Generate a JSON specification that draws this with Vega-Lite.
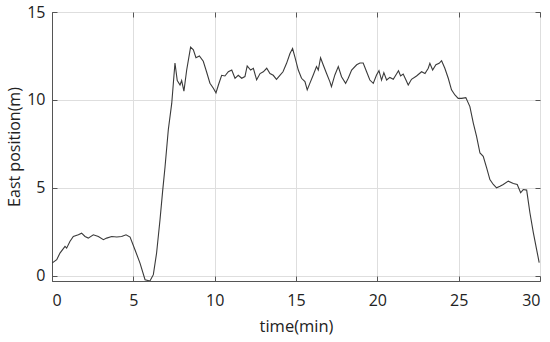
{
  "$schema": "https://vega.github.io/schema/vega-lite/v6.json",
  "width": 488,
  "height": 269,
  "autosize": "none",
  "padding": {"left": 52, "top": 12, "right": 10, "bottom": 61},
  "background": "white",
  "config": {
    "view": {"stroke": "#555", "strokeWidth": 1},
    "font": "Open Sans",
    "axis": {
      "labelFont": "Open Sans",
      "titleFont": "Open Sans",
      "labelFontSize": 16,
      "titleFontWeight": "normal",
      "labelColor": "#222",
      "titleColor": "#222",
      "domainColor": "#555",
      "tickColor": "#555",
      "gridColor": "#dedede",
      "tickSize": -5
    }
  },
  "data": {"values": [
    {"t": 0, "e": 0.72}, {"t": 0.29, "e": 0.91}, {"t": 0.49, "e": 1.29}, {"t": 0.8, "e": 1.67}, {"t": 0.9, "e": 1.57},
    {"t": 1.1, "e": 1.95}, {"t": 1.31, "e": 2.23}, {"t": 1.62, "e": 2.33}, {"t": 1.82, "e": 2.42}, {"t": 2.03, "e": 2.23},
    {"t": 2.23, "e": 2.14}, {"t": 2.54, "e": 2.33}, {"t": 2.85, "e": 2.23}, {"t": 3.16, "e": 2.05}, {"t": 3.36, "e": 2.14},
    {"t": 3.67, "e": 2.23}, {"t": 3.98, "e": 2.2}, {"t": 4.28, "e": 2.23}, {"t": 4.55, "e": 2.33}, {"t": 4.8, "e": 2.2},
    {"t": 5.1, "e": 1.48}, {"t": 5.41, "e": 0.72}, {"t": 5.72, "e": -0.23}, {"t": 6.02, "e": -0.3}, {"t": 6.23, "e": 0.06},
    {"t": 6.43, "e": 1.29}, {"t": 6.64, "e": 3.18}, {"t": 6.8, "e": 4.8}, {"t": 6.95, "e": 6.2}, {"t": 7.15, "e": 8.3},
    {"t": 7.36, "e": 9.8}, {"t": 7.46, "e": 10.95}, {"t": 7.56, "e": 12.1}, {"t": 7.7, "e": 11.1}, {"t": 7.87, "e": 10.85},
    {"t": 7.97, "e": 11.1}, {"t": 8.11, "e": 10.5}, {"t": 8.28, "e": 11.7}, {"t": 8.52, "e": 13.0}, {"t": 8.69, "e": 12.85},
    {"t": 8.85, "e": 12.4}, {"t": 9.06, "e": 12.5}, {"t": 9.3, "e": 12.2}, {"t": 9.5, "e": 11.6}, {"t": 9.71, "e": 10.95},
    {"t": 9.92, "e": 10.66}, {"t": 10.08, "e": 10.4}, {"t": 10.23, "e": 10.85}, {"t": 10.43, "e": 11.4}, {"t": 10.63, "e": 11.36},
    {"t": 10.84, "e": 11.6}, {"t": 11.05, "e": 11.7}, {"t": 11.25, "e": 11.23}, {"t": 11.45, "e": 11.4}, {"t": 11.66, "e": 11.23},
    {"t": 11.86, "e": 11.33}, {"t": 12.0, "e": 11.93}, {"t": 12.21, "e": 11.7}, {"t": 12.38, "e": 11.8}, {"t": 12.58, "e": 11.14},
    {"t": 12.79, "e": 11.5}, {"t": 12.99, "e": 11.6}, {"t": 13.2, "e": 11.8}, {"t": 13.4, "e": 11.5}, {"t": 13.6, "e": 11.4},
    {"t": 13.8, "e": 11.17}, {"t": 14.01, "e": 11.4}, {"t": 14.2, "e": 11.6}, {"t": 14.42, "e": 12.08}, {"t": 14.63, "e": 12.64},
    {"t": 14.79, "e": 12.92}, {"t": 14.93, "e": 12.45}, {"t": 15.14, "e": 11.7}, {"t": 15.34, "e": 11.23}, {"t": 15.55, "e": 11.04},
    {"t": 15.69, "e": 10.57}, {"t": 15.85, "e": 10.94}, {"t": 16.06, "e": 11.42}, {"t": 16.26, "e": 11.9}, {"t": 16.37, "e": 11.7},
    {"t": 16.51, "e": 12.4}, {"t": 16.67, "e": 12.0}, {"t": 16.88, "e": 11.5}, {"t": 17.08, "e": 11.04}, {"t": 17.18, "e": 10.75},
    {"t": 17.39, "e": 11.42}, {"t": 17.6, "e": 11.9}, {"t": 17.8, "e": 11.32}, {"t": 18.05, "e": 10.94}, {"t": 18.21, "e": 11.23},
    {"t": 18.42, "e": 11.7}, {"t": 18.73, "e": 12.0}, {"t": 18.93, "e": 12.1}, {"t": 19.13, "e": 12.1}, {"t": 19.34, "e": 11.6},
    {"t": 19.54, "e": 11.13}, {"t": 19.75, "e": 10.94}, {"t": 19.95, "e": 11.42}, {"t": 20.1, "e": 11.66}, {"t": 20.26, "e": 11.13},
    {"t": 20.4, "e": 11.55}, {"t": 20.57, "e": 11.13}, {"t": 20.77, "e": 11.28}, {"t": 20.98, "e": 11.17}, {"t": 21.14, "e": 11.42},
    {"t": 21.3, "e": 11.66}, {"t": 21.43, "e": 11.36}, {"t": 21.59, "e": 11.47}, {"t": 21.76, "e": 11.13}, {"t": 21.9, "e": 10.85},
    {"t": 22.1, "e": 11.17}, {"t": 22.41, "e": 11.36}, {"t": 22.72, "e": 11.6}, {"t": 22.93, "e": 11.5}, {"t": 23.13, "e": 11.8},
    {"t": 23.23, "e": 12.08}, {"t": 23.4, "e": 11.7}, {"t": 23.6, "e": 12.0}, {"t": 23.8, "e": 12.08}, {"t": 23.95, "e": 12.23},
    {"t": 24.15, "e": 11.8}, {"t": 24.36, "e": 11.23}, {"t": 24.56, "e": 10.57}, {"t": 24.77, "e": 10.28}, {"t": 24.97, "e": 10.09},
    {"t": 25.18, "e": 10.09}, {"t": 25.44, "e": 10.13}, {"t": 25.69, "e": 9.62}, {"t": 25.9, "e": 8.68}, {"t": 26.1, "e": 7.92},
    {"t": 26.31, "e": 6.98}, {"t": 26.51, "e": 6.79}, {"t": 26.72, "e": 6.13}, {"t": 26.92, "e": 5.47}, {"t": 27.13, "e": 5.19},
    {"t": 27.33, "e": 5.0}, {"t": 27.54, "e": 5.09}, {"t": 27.74, "e": 5.19}, {"t": 28.05, "e": 5.38}, {"t": 28.36, "e": 5.25},
    {"t": 28.6, "e": 5.19}, {"t": 28.81, "e": 4.72}, {"t": 28.97, "e": 4.9}, {"t": 29.18, "e": 4.87}, {"t": 29.38, "e": 3.58},
    {"t": 29.59, "e": 2.45}, {"t": 29.79, "e": 1.5}, {"t": 29.95, "e": 0.75}
  ]},
  "layer": [
    {
      "mark": {"type": "line", "color": "#3a3a3a", "strokeWidth": 1.1, "clip": true},
      "encoding": {
        "x": {"field": "t", "type": "quantitative", "scale": {"domain": [0, 30], "nice": false, "zero": false},
              "axis": {"title": "time(min)", "titleFontSize": 16.5, "values": [0, 5, 10, 15, 20, 25, 30], "labelPadding": 16, "titlePadding": 10}},
        "y": {"field": "e", "type": "quantitative", "scale": {"domain": [-0.3, 15], "nice": false, "zero": false},
              "axis": {"title": "East position(m)", "titleFontSize": 16, "values": [0, 5, 10, 15], "labelPadding": 12, "titlePadding": 4}}
      }
    },
    {
      "mark": {"type": "line", "opacity": 0},
      "encoding": {
        "x": {"field": "t", "type": "quantitative", "axis": {"orient": "top", "labels": false, "title": null, "grid": false, "domain": false, "values": [0, 5, 10, 15, 20, 25, 30]}},
        "y": {"field": "e", "type": "quantitative", "axis": {"orient": "right", "labels": false, "title": null, "grid": false, "domain": false, "values": [0, 5, 10, 15]}}
      }
    }
  ],
  "resolve": {"axis": {"x": "independent", "y": "independent"}}
}
